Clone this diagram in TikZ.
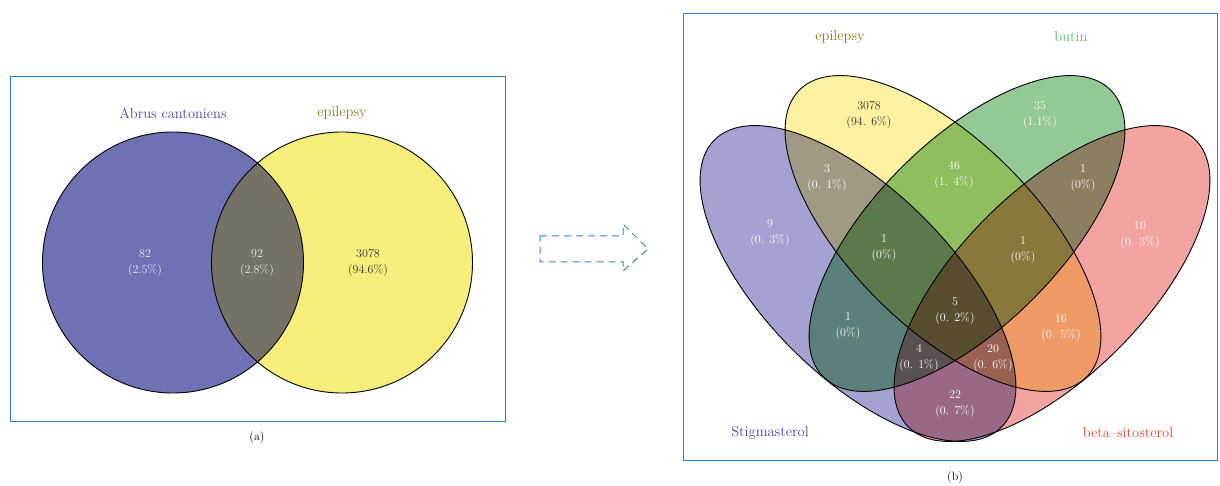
\documentclass[tikz,border=0pt]{standalone}
\usepackage{fontspec}
\definecolor{boxblue}{RGB}{35,128,200}
\definecolor{arrowblue}{RGB}{45,135,200}
\definecolor{cA}{RGB}{110,113,179}
\definecolor{cB}{RGB}{245,238,122}
\definecolor{cAB}{RGB}{117,113,100}
\definecolor{vBlue}{RGB}{163,162,210}
\definecolor{vYel}{RGB}{251,241,160}
\definecolor{vGrn}{RGB}{147,200,151}
\definecolor{vRed}{RGB}{244,163,163}
\definecolor{tBlue}{RGB}{75,68,160}
\definecolor{tOlive}{RGB}{128,124,32}
\definecolor{tGreen}{RGB}{100,185,115}
\definecolor{tRed}{RGB}{230,70,60}
\definecolor{darktext}{RGB}{50,50,50}
\begin{document}
\begin{tikzpicture}[x=1pt,y=-1pt,
  frame/.style={draw=boxblue, line width=1pt},
  setlabel/.style={inner sep=0pt, font=\fontsize{14.5}{17}\selectfont},
  num/.style={inner sep=0pt, align=center, text=white, font=\fontsize{12}{16}\selectfont},
  numdark/.style={num, text=darktext},
  caption/.style={inner sep=0pt, font=\fontsize{12}{14}\selectfont},
  venn/.style={blend mode=multiply},
  outline/.style={draw=black, line width=0.9pt}]
\useasboundingbox (0,0) rectangle (1220,486);
\fill[white] (0,0) rectangle (1220,486);

% ---------- panel (a) ----------
\node[frame, minimum width=495pt, minimum height=345pt, inner sep=0pt, anchor=north west] (boxa) at (10,76) {};
\fill[cA] (173,262.5) circle [radius=130.5pt];
\fill[cB] (342,262.5) circle [radius=130.5pt];
\begin{scope}
  \clip (173,262.5) circle [radius=130.5pt];
  \fill[cAB] (342,262.5) circle [radius=130.5pt];
\end{scope}
\draw[outline] (173,262.5) circle [radius=130.5pt];
\draw[outline] (342,262.5) circle [radius=130.5pt];
\node[setlabel, text=tBlue] (la1) at (173,113) {Abrus cantoniens};
\node[setlabel, text=tOlive] (la2) at (342,113) {epilepsy};
\node[num, text={rgb,255:red,235;green,235;blue,242}] (na1) at (145,263) {82\\(2.5\%)};
\node[num, text={rgb,255:red,235;green,235;blue,230}] (na2) at (257,263) {92\\(2.8\%)};
\node[numdark] (na3) at (368,263) {3078\\(94.6\%)};
\node[caption] (capa) at (257,438) {(a)};

% ---------- arrow ----------
\draw[arrowblue, line width=1pt, dash pattern=on 7pt off 5pt, line join=miter]
  (540,236) -- (623,236) -- (623,224) -- (648,249) -- (623,271) -- (623,262) -- (540,262) -- cycle;

% ---------- panel (b) ----------
\node[frame, minimum width=534pt, minimum height=447pt, inner sep=0pt, anchor=north west] (boxb) at (683,13) {};
\fill[vBlue, venn, rotate around={-45:(858,283.5)}] (858,283.5) ellipse [x radius=203pt, y radius=93pt];
\fill[vYel, venn, rotate around={-45:(943,233.5)}] (943,233.5) ellipse [x radius=203pt, y radius=93pt];
\fill[vGrn, venn, rotate around={45:(967,233.5)}] (967,233.5) ellipse [x radius=203pt, y radius=93pt];
\fill[vRed, venn, rotate around={45:(1052,283.5)}] (1052,283.5) ellipse [x radius=203pt, y radius=93pt];
\draw[outline, rotate around={-45:(858,283.5)}] (858,283.5) ellipse [x radius=203pt, y radius=93pt];
\draw[outline, rotate around={-45:(943,233.5)}] (943,233.5) ellipse [x radius=203pt, y radius=93pt];
\draw[outline, rotate around={45:(967,233.5)}] (967,233.5) ellipse [x radius=203pt, y radius=93pt];
\draw[outline, rotate around={45:(1052,283.5)}] (1052,283.5) ellipse [x radius=203pt, y radius=93pt];

\node[setlabel, text=tOlive] (lb1) at (840,37) {epilepsy};
\node[setlabel, text=tGreen] (lb2) at (1071,37) {butin};
\node[setlabel, text=tBlue] (lb3) at (770,433) {Stigmasterol};
\node[setlabel, text=tRed] (lb4) at (1128,433) {beta--sitosterol};

\node[numdark] (n1) at (869,115) {3078\\(94. 6\%)};
\node[num] (n2) at (1040,115) {35\\(1.1\%)};
\node[num] (n3) at (827,178) {3\\(0. 1\%)};
\node[num] (n4) at (954,175) {46\\(1. 4\%)};
\node[num] (n5) at (1083,178) {1\\(0\%)};
\node[num] (n6) at (770,233) {9\\(0. 3\%)};
\node[num] (n7) at (1140,235) {10\\(0. 3\%)};
\node[num] (n8) at (884,248) {1\\(0\%)};
\node[num] (n9) at (1023,250) {1\\(0\%)};
\node[num] (n10) at (848,326) {1\\(0\%)};
\node[num] (n11) at (1061,328) {16\\(0. 5\%)};
\node[num] (n12) at (955,311) {5\\(0. 2\%)};
\node[num] (n13) at (919,358) {4\\(0. 1\%)};
\node[num] (n14) at (993,358) {20\\(0. 6\%)};
\node[num] (n15) at (955,404) {22\\(0. 7\%)};
\node[caption] (capb) at (955,478) {(b)};
\end{tikzpicture}
\end{document}
